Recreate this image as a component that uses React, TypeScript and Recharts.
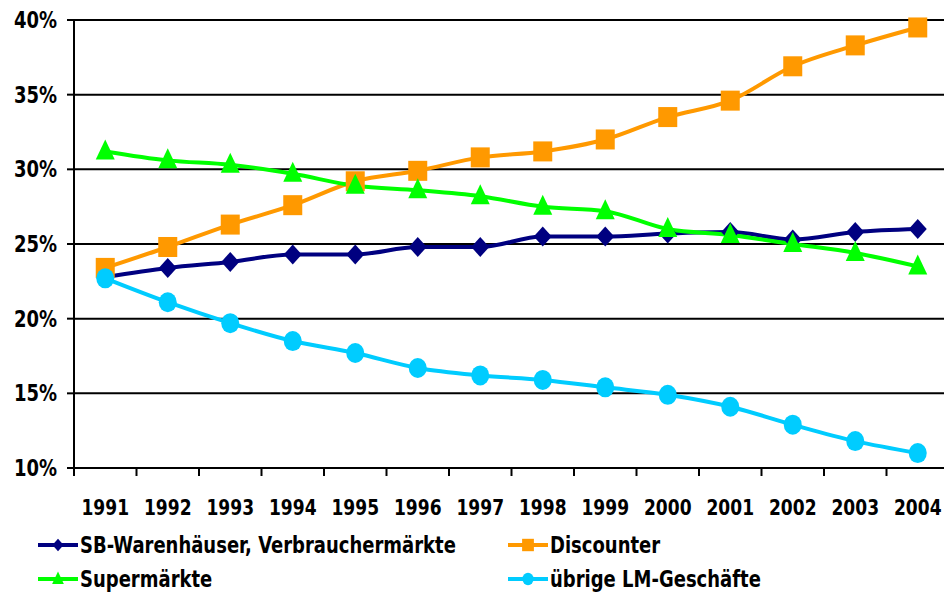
import { LineChart, Line, XAxis, YAxis, CartesianGrid } from 'recharts';

const YEARS = ['1991', '1992', '1993', '1994', '1995', '1996', '1997', '1998', '1999', '2000', '2001', '2002', '2003', '2004'];

// shares in percent
const SB_WARENHAEUSER = [22.8, 23.4, 23.8, 24.3, 24.3, 24.8, 24.8, 25.5, 25.5, 25.7, 25.8, 25.3, 25.8, 26.0];
const DISCOUNTER = [23.4, 24.8, 26.3, 27.6, 29.2, 29.9, 30.8, 31.2, 32.0, 33.5, 34.6, 36.9, 38.3, 39.5];
const SUPERMAERKTE = [31.2, 30.6, 30.3, 29.7, 28.9, 28.6, 28.2, 27.5, 27.2, 26.0, 25.6, 25.0, 24.4, 23.5];
const UEBRIGE = [22.7, 21.1, 19.7, 18.5, 17.7, 16.7, 16.2, 15.9, 15.4, 14.9, 14.1, 12.9, 11.8, 11.0];

const Y_TICKS = [10, 15, 20, 25, 30, 35, 40];

const SERIES = [
  { key: 'sb', name: 'SB-Warenhäuser, Verbrauchermärkte', color: '#000080', shape: 'diamond' },
  { key: 'discounter', name: 'Discounter', color: '#FF9900', shape: 'square' },
  { key: 'super', name: 'Supermärkte', color: '#00FF00', shape: 'triangle' },
  { key: 'uebrige', name: 'übrige LM-Geschäfte', color: '#00CCFF', shape: 'circle' },
];

const data = YEARS.map((year, i) => ({
  idx: i,
  year,
  sb: SB_WARENHAEUSER[i],
  discounter: DISCOUNTER[i],
  super: SUPERMAERKTE[i],
  uebrige: UEBRIGE[i],
}));

const FONT = '"DejaVu Sans Condensed", "DejaVu Sans", sans-serif';

function Marker({ shape, cx, cy, color, s = 1 }: { shape: string; cx: number; cy: number; color: string; s?: number }) {
  if (shape === 'diamond') {
    return <polygon points={`${cx},${cy - 10 * s} ${cx + 9 * s},${cy} ${cx},${cy + 10 * s} ${cx - 9 * s},${cy}`} fill={color} />;
  }
  if (shape === 'square') {
    return <rect x={cx - 9.5 * s} y={cy - 10 * s} width={19 * s} height={20 * s} fill={color} />;
  }
  if (shape === 'triangle') {
    return <polygon points={`${cx},${cy - 12 * s} ${cx + 9.5 * s},${cy + 8 * s} ${cx - 9.5 * s},${cy + 8 * s}`} fill={color} />;
  }
  return <ellipse cx={cx} cy={cy} rx={9 * s} ry={10 * s} fill={color} />;
}

function makeDot(shape: string, color: string) {
  return (props: any) => {
    const { cx, cy, index } = props;
    if (cx == null || cy == null) return <g key={`d-${index}`} />;
    return (
      <g key={`d-${shape}-${index}`}>
        <Marker shape={shape} cx={cx} cy={cy} color={color} />
      </g>
    );
  };
}

// year label plus tick marks on the category boundaries (Excel style);
// the reference text is slightly stretched vertically
function YearTick(props: any) {
  const { x, y, width, payload } = props;
  const half = width / YEARS.length / 2;
  const last = payload.value === YEARS.length - 1;
  return (
    <g>
      <line x1={x - half} y1={y} x2={x - half} y2={y + 8} stroke="#000" strokeWidth={2} />
      {last && <line x1={x + half} y1={y} x2={x + half} y2={y + 8} stroke="#000" strokeWidth={2} />}
      <g transform={`translate(${x},${y + 47}) scale(1,1.15)`}>
        <text x={0} y={0} textAnchor="middle" fontSize={19} fontWeight="bold" fill="#000" fontFamily={FONT}>
          {YEARS[payload.value]}
        </text>
      </g>
    </g>
  );
}

function PercentTick(props: any) {
  const { x, y, payload } = props;
  return (
    <g transform={`translate(${x},${y + 8}) scale(1,1.15)`}>
      <text x={0} y={0} textAnchor="end" fontSize={20} fontWeight="bold" fill="#000" fontFamily={FONT}>
        {`${payload.value}%`}
      </text>
    </g>
  );
}

function LegendItem({ shape, color, name }: { shape: string; color: string; name: string }) {
  return (
    <div style={{ display: 'flex', alignItems: 'center', height: 34 }}>
      <svg width={44} height={20} style={{ display: 'block' }}>
        <line x1={2} y1={10} x2={42} y2={10} stroke={color} strokeWidth={4} />
        <Marker shape={shape} cx={22} cy={10} color={color} s={0.62} />
      </svg>
      <span
        style={{
          fontSize: 20,
          fontWeight: 'bold',
          color: '#000',
          whiteSpace: 'nowrap',
          display: 'inline-block',
          transform: 'scaleY(1.12)',
        }}
      >
        {name}
      </span>
    </div>
  );
}

export default function App() {
  const domain: [number, number] = [-0.5, YEARS.length - 0.5];

  return (
    <div
      style={{
        position: 'absolute',
        left: 0,
        top: 0,
        width: 944,
        height: 594,
        overflow: 'hidden',
        background: '#fff',
        fontFamily: FONT,
      }}
    >
      <LineChart width={950} height={520} data={data} margin={{ top: 20, right: 1, left: 0, bottom: 0 }}>
        <CartesianGrid vertical={false} stroke="#000" strokeWidth={2} />
        <XAxis
          dataKey="idx"
          type="number"
          domain={domain}
          ticks={YEARS.map((_, i) => i)}
          tickLine={false}
          tickSize={0}
          tickMargin={0}
          axisLine={{ stroke: '#000', strokeWidth: 2 }}
          tick={<YearTick />}
          interval={0}
          height={52}
        />
        <YAxis
          domain={[10, 40]}
          ticks={Y_TICKS}
          width={74}
          tickSize={7}
          tickMargin={10}
          axisLine={{ stroke: '#000', strokeWidth: 2 }}
          tickLine={{ stroke: '#000', strokeWidth: 2 }}
          tick={<PercentTick />}
          interval={0}
        />
        {SERIES.map((s) => (
          <Line
            key={s.key}
            type="monotone"
            dataKey={s.key}
            stroke={s.color}
            strokeWidth={4}
            dot={makeDot(s.shape, s.color)}
            activeDot={false}
            isAnimationActive={false}
          />
        ))}
      </LineChart>
      <div style={{ position: 'absolute', left: 36, top: 528 }}>
        <LegendItem shape={SERIES[0].shape} color={SERIES[0].color} name={SERIES[0].name} />
        <LegendItem shape={SERIES[2].shape} color={SERIES[2].color} name={SERIES[2].name} />
      </div>
      <div style={{ position: 'absolute', left: 506, top: 528 }}>
        <LegendItem shape={SERIES[1].shape} color={SERIES[1].color} name={SERIES[1].name} />
        <LegendItem shape={SERIES[3].shape} color={SERIES[3].color} name={SERIES[3].name} />
      </div>
    </div>
  );
}
